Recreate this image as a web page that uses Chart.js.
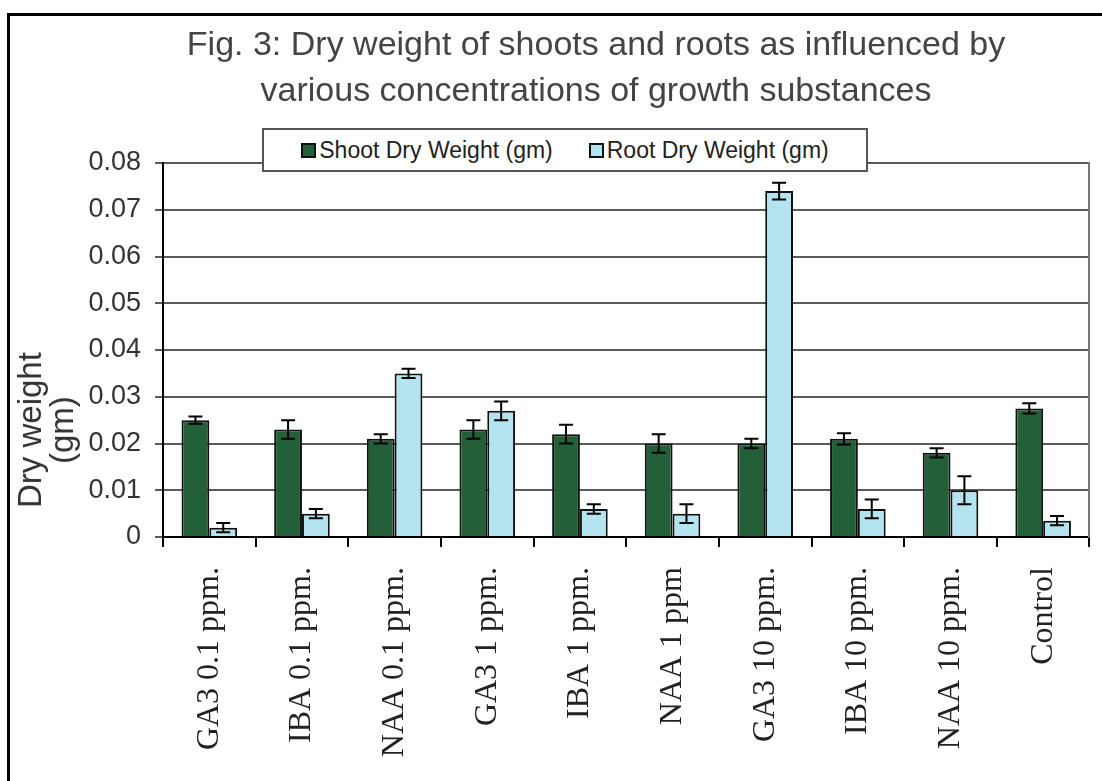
<!DOCTYPE html>
<html>
<head>
<meta charset="utf-8">
<title>Fig. 3: Dry weight of shoots and roots</title>
<script src="https://cdn.jsdelivr.net/npm/chart.js@4.4.1/dist/chart.umd.min.js"></script>
<style>
    html, body { margin: 0; padding: 0; background: #fff; overflow: hidden; }
    #page { position: relative; width: 1102px; height: 781px; overflow: hidden; }
    #frame { position: absolute; left: 7px; top: 13px; width: 1200px; height: 900px; border: 3px solid #000; }
    #chartCanvas { position: absolute; left: 0; top: 0; }
    #titulo {
        position: absolute; left: 96px; top: 20px; width: 1000px; text-align: center;
        font-family: "Liberation Sans", Arial, sans-serif; font-size: 34px; line-height: 46px; color: #444;
    }
    #yTitulo {
        position: absolute; left: 46px; top: 430px; white-space: nowrap; text-align: center;
        transform: translate(-50%, -50%) rotate(-90deg);
        font-family: "Liberation Sans", Arial, sans-serif; font-size: 33px; line-height: 32px; color: #333;
    }
    #legenda {
        position: absolute; left: 262px; top: 128px; width: 602px; height: 40px;
        border: 2px solid #555; background: #fff; z-index: 2;
        display: flex; align-items: center; justify-content: center; gap: 36px;
        font-family: "Liberation Sans", Arial, sans-serif; font-size: 23px; color: #222;
    }
    .item { display: flex; align-items: center; gap: 3px; }
    .marca { width: 11px; height: 11px; border: 2px solid #111; }
</style>
</head>
<body>
<div id="page">
    <div id="frame"></div>
    <canvas id="chartCanvas" width="1102" height="781"></canvas>
    <div id="titulo">Fig. 3: Dry weight of shoots and roots as influenced by<br>various concentrations of growth substances</div>
    <div id="yTitulo">Dry weight<br>(gm)</div>
    <div id="legenda"></div>
</div>
<script>
// Dados (Fig. 3)
const categorias = ['GA3 0.1 ppm.', 'IBA 0.1 ppm.', 'NAA 0.1 ppm.', 'GA3 1 ppm.', 'IBA 1 ppm.',
    'NAA 1 ppm', 'GA3 10 ppm.', 'IBA 10 ppm.', 'NAA 10 ppm.', 'Control'];
const shootPeso = [0.025, 0.023, 0.021, 0.023, 0.022, 0.020, 0.020, 0.021, 0.018, 0.0275];
const shootErro = [0.0008, 0.002, 0.001, 0.002, 0.002, 0.002, 0.001, 0.0012, 0.001, 0.0011];
const rootPeso = [0.002, 0.005, 0.035, 0.027, 0.006, 0.005, 0.074, 0.006, 0.010, 0.0035];
const rootErro = [0.001, 0.001, 0.001, 0.002, 0.001, 0.002, 0.0018, 0.002, 0.003, 0.001];
const yTicks = ['0', '0.01', '0.02', '0.03', '0.04', '0.05', '0.06', '0.07', '0.08'];

const erros = [shootErro, rootErro];

// Plugin simples para as barras de erro
const barrasErro = {
    id: 'barrasErro',
    afterDatasetsDraw(chart) {
        const ctx = chart.ctx;
        const y = chart.scales.y;
        ctx.save();
        ctx.strokeStyle = '#000';
        ctx.lineWidth = 2;
        chart.data.datasets.forEach((ds, i) => {
            const meta = chart.getDatasetMeta(i);
            meta.data.forEach((bar, j) => {
                const v = ds.data[j];
                const e = erros[i][j];
                const yTop = y.getPixelForValue(v + e);
                const yBot = y.getPixelForValue(v - e);
                ctx.beginPath();
                ctx.moveTo(bar.x, yTop); ctx.lineTo(bar.x, yBot);
                ctx.moveTo(bar.x - 7, yTop); ctx.lineTo(bar.x + 7, yTop);
                ctx.moveTo(bar.x - 7, yBot); ctx.lineTo(bar.x + 7, yBot);
                ctx.stroke();
            });
        });
        ctx.restore();
    }
};

const fonteSans = "'Liberation Sans', Arial, sans-serif";
const fonteSerif = "'Liberation Serif', 'Times New Roman', serif";

const chart = new Chart(document.getElementById('chartCanvas'), {
    type: 'bar',
    data: {
        labels: categorias,
        datasets: [
            {
                label: 'Shoot Dry Weight (gm)',
                data: shootPeso,
                backgroundColor: '#23603a',
                borderColor: '#111',
                borderWidth: 2
            },
            {
                label: 'Root Dry Weight (gm)',
                data: rootPeso,
                backgroundColor: '#b4e4ef',
                borderColor: '#111',
                borderWidth: 2
            }
        ]
    },
    options: {
        responsive: false,
        animation: false,
        datasets: { bar: { categoryPercentage: 0.6, barPercentage: 1.0 } },
        layout: { padding: { top: 163, right: 9, left: 0, bottom: 0 } },
        plugins: {
            legend: { display: false },
            title: { display: false },
            tooltip: { enabled: false }
        },
        scales: {
            x: {
                grid: { drawOnChartArea: false, color: '#000', lineWidth: 2, tickLength: 10, offset: true },
                border: { color: '#000', width: 2 },
                ticks: {
                    autoSkip: false, minRotation: 90, maxRotation: 90, padding: 20,
                    color: '#222', font: { family: fonteSerif, size: 32 }
                },
                afterFit: (s) => { s.height = 244; }
            },
            y: {
                min: 0, max: 0.08,
                grid: { color: '#5a5a5a', lineWidth: 2, tickLength: 8 },
                border: { color: '#000', width: 2 },
                ticks: {
                    stepSize: 0.01, padding: 14, color: '#333',
                    font: { family: fonteSans, size: 27 },
                    callback: (v, i) => yTicks[i]
                },
                afterFit: (s) => { s.width = 163; }
            },
            yr: {
                position: 'right',
                min: 0, max: 0.08,
                grid: { display: false },
                ticks: { display: false },
                border: { color: '#777', width: 2 },
                afterFit: (s) => { s.width = 0; }
            }
        }
    },
    plugins: [barrasErro]
});

// Legenda em HTML montada a partir dos datasets
const legenda = document.getElementById('legenda');
chart.data.datasets.forEach(ds => {
    legenda.innerHTML += `<div class="item"><span class="marca" style="background:${ds.backgroundColor}"></span><span>${ds.label}</span></div>`;
});
</script>
</body>
</html>
